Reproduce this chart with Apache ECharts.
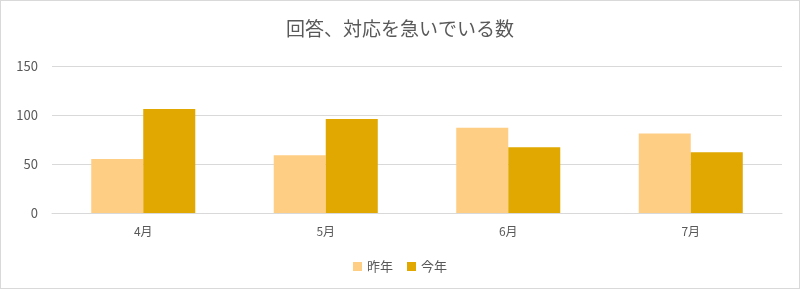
<!DOCTYPE html>
<html><head><meta charset="utf-8">
<script src="https://cdn.jsdelivr.net/npm/echarts@6/dist/echarts.min.js"></script>
<style>html,body{margin:0;padding:0;background:#fff}#c{width:798px;height:287px;border:1px solid #d9d9d9}</style>
</head><body><div id="c"></div>
<script>
const title = '回答、対応を急いでいる数';
const categories = ['4月','5月','6月','7月'];
const seriesNames = ['昨年','今年'];
const lastYear = [55, 59, 87, 81];
const thisYear = [106, 96, 67, 62];
const colors = ['#FFCE85', '#E0A800'];
const font = '"Noto Sans CJK JP", "Noto Sans", sans-serif';
const chart = echarts.init(document.getElementById('c'));
chart.setOption({
  animation: false,
  textStyle: {fontFamily: font},
  title: {text: title, left: 'center', top: 13, textStyle: {fontFamily: font, fontSize: 19, fontWeight: 'normal', color: '#595959'}},
  legend: {bottom: 10, left: 'center', itemWidth: 9, itemHeight: 9, itemGap: 14, icon: 'rect',
    textStyle: {fontFamily: font, fontSize: 13, color: '#595959'}, data: seriesNames},
  grid: {left: 51, right: 17, top: 65, bottom: 75, containLabel: false},
  xAxis: {type: 'category', data: categories,
    axisLine: {lineStyle: {color: '#d9d9d9'}}, axisTick: {show: false},
    axisLabel: {color: '#595959', fontSize: 12, margin: 12}},
  yAxis: {type: 'value', min: 0, max: 150, interval: 50,
    axisLine: {show: false}, axisTick: {show: false},
    splitLine: {lineStyle: {color: '#d9d9d9'}},
    axisLabel: {color: '#595959', fontSize: 13, margin: 14}},
  series: [
    {name: seriesNames[0], type: 'bar', data: lastYear, barGap: '0%', barCategoryGap: '43%', itemStyle: {color: colors[0]}},
    {name: seriesNames[1], type: 'bar', data: thisYear, itemStyle: {color: colors[1]}}
  ]
});
</script></body></html>
